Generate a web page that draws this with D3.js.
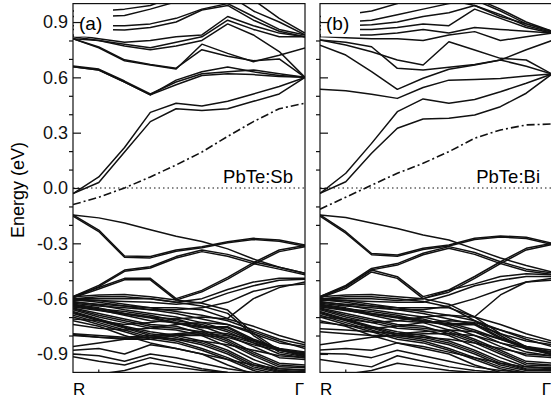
<!DOCTYPE html>
<html>
<head>
<meta charset="utf-8">
<script src="https://d3js.org/d3.v7.min.js"></script>
<style>
  body { margin: 0; background: #fff; }
  text { font-family: "Liberation Sans", Arial, sans-serif; }
</style>
</head>
<body>
<svg id="chart" width="551" height="403"></svg>
<script>
// energies in eV at the 10 k-points along R -> Gamma
let yTicks = [-0.9, -0.6, -0.3, 0.0, 0.3, 0.6, 0.9];
let yMinor = [-0.8, -0.7, -0.5, -0.4, -0.2, -0.1, 0.1, 0.2, 0.4, 0.5, 0.7, 0.8];
let kLabels = ["R", "\u0393"];

// panel (a) PbTe:Sb
let impA = [-0.09, -0.05, 0.0, 0.06, 0.125, 0.195, 0.28, 0.36, 0.43, 0.46];
let condA = [
  [-0.03, 0.03, 0.195, 0.36, 0.43, 0.42, 0.43, 0.47, 0.51, 0.6],
  [-0.03, 0.06, 0.22, 0.41, 0.46, 0.445, 0.47, 0.51, 0.55, 0.6],
  [0.657, 0.64, 0.575, 0.505, 0.585, 0.63, 0.656, 0.63, 0.61, 0.6],
  [0.657, 0.64, 0.575, 0.505, 0.56, 0.61, 0.62, 0.615, 0.605, 0.6],
  [0.662, 0.645, 0.58, 0.51, 0.575, 0.62, 0.63, 0.64, 0.62, 0.6],
  [0.81, 0.76, 0.69, 0.667, 0.645, 0.78, 0.73, 0.685, 0.72, 0.76],
  [0.81, 0.765, 0.695, 0.67, 0.65, 0.75, 0.715, 0.69, 0.7, 0.6],
  [0.81, 0.8, 0.77, 0.75, 0.77, 0.8, 0.89, 0.83, 0.74, 0.6],
  [0.82, 0.8, 0.78, 0.76, 0.79, 0.82, 0.91, 0.86, 0.82, 0.82],
  [0.83, 0.81, 0.79, 0.8, 0.82, 0.83, 0.93, 0.88, 0.84, 0.82],
  [0.86, 0.86, 0.857, 0.87, 0.9, 0.965, 0.99, 0.91, 0.85, 0.82],
  [0.88, 0.88, 0.88, 0.89, 0.92, 0.97, 1.0, 0.93, 0.86, 0.83],
  [0.93, 0.93, 0.935, 0.97, 1.01, 1.05, 1.08, 1.02, 0.92, 0.84],
  [0.96, 0.96, 0.97, 0.99, 1.04, 1.08, 1.05, 0.96, 0.9, 0.83]
];
let valA = [
  [-0.146, -0.162, -0.19, -0.226, -0.262, -0.29, -0.33, -0.385, -0.43, -0.463],
  [-0.146, -0.228, -0.369, -0.372, -0.336, -0.318, -0.291, -0.273, -0.282, -0.309],
  [-0.152, -0.236, -0.376, -0.379, -0.343, -0.324, -0.297, -0.279, -0.289, -0.316],
  [-0.589, -0.528, -0.445, -0.427, -0.372, -0.336, -0.36, -0.4, -0.43, -0.463],
  [-0.595, -0.535, -0.452, -0.434, -0.38, -0.345, -0.37, -0.41, -0.44, -0.47],
  [-0.589, -0.54, -0.49, -0.49, -0.6, -0.555, -0.485, -0.405, -0.336, -0.312],
  [-0.595, -0.548, -0.498, -0.498, -0.608, -0.563, -0.494, -0.414, -0.345, -0.318],
  [-0.6, -0.6, -0.6, -0.6, -0.62, -0.6, -0.55, -0.51, -0.49, -0.49],
  [-0.61, -0.61, -0.615, -0.62, -0.63, -0.62, -0.57, -0.53, -0.5, -0.495],
  [-0.62, -0.63, -0.64, -0.65, -0.65, -0.66, -0.707, -0.6, -0.54, -0.51],
  [-0.625, -0.64, -0.65, -0.66, -0.66, -0.65, -0.62, -0.56, -0.53, -0.52],
  [-0.59, -0.58, -0.578, -0.59, -0.607, -0.625, -0.662, -0.788, -0.88, -0.906],
  [-0.6, -0.59, -0.59, -0.6, -0.62, -0.64, -0.68, -0.8, -0.89, -0.915],
  [-0.64, -0.66, -0.68, -0.7, -0.73, -0.752, -0.752, -0.82, -0.87, -0.91],
  [-0.645, -0.665, -0.685, -0.705, -0.735, -0.758, -0.758, -0.826, -0.876, -0.915],
  [-0.605, -0.62, -0.64, -0.66, -0.68, -0.71, -0.74, -0.79, -0.84, -0.86],
  [-0.6, -0.61, -0.63, -0.65, -0.67, -0.69, -0.72, -0.77, -0.82, -0.85],
  [-0.615, -0.635, -0.66, -0.68, -0.7, -0.73, -0.77, -0.83, -0.88, -0.9],
  [-0.63, -0.65, -0.68, -0.7, -0.71, -0.75, -0.8, -0.86, -0.92, -0.93],
  [-0.635, -0.655, -0.67, -0.69, -0.72, -0.74, -0.78, -0.84, -0.9, -0.92],
  [-0.64, -0.66, -0.69, -0.72, -0.73, -0.77, -0.82, -0.89, -0.95, -0.96],
  [-0.65, -0.68, -0.71, -0.74, -0.75, -0.79, -0.84, -0.91, -0.97, -0.975],
  [-0.655, -0.69, -0.72, -0.75, -0.76, -0.78, -0.83, -0.9, -0.96, -0.97],
  [-0.66, -0.7, -0.73, -0.76, -0.77, -0.8, -0.86, -0.93, -0.98, -0.985],
  [-0.67, -0.71, -0.75, -0.78, -0.8, -0.83, -0.88, -0.95, -0.99, -0.995],
  [-0.675, -0.715, -0.755, -0.79, -0.81, -0.84, -0.89, -0.96, -0.995, -1.0],
  [-0.68, -0.72, -0.76, -0.8, -0.82, -0.85, -0.9, -0.97, -1.0, -1.0],
  [-0.69, -0.73, -0.77, -0.81, -0.83, -0.87, -0.92, -0.98, -1.01, -1.01],
  [-0.7, -0.74, -0.78, -0.82, -0.84, -0.88, -0.93, -0.99, -1.02, -1.02],
  [-0.72, -0.75, -0.8, -0.84, -0.87, -0.9, -0.96, -1.01, -1.03, -1.03],
  [-0.71, -0.72, -0.74, -0.73, -0.71, -0.7, -0.71, -0.75, -0.8, -0.84],
  [-0.74, -0.76, -0.77, -0.76, -0.74, -0.73, -0.74, -0.78, -0.83, -0.87],
  [-0.79, -0.8, -0.81, -0.8, -0.79, -0.78, -0.79, -0.83, -0.87, -0.89],
  [-0.795, -0.81, -0.815, -0.81, -0.795, -0.79, -0.8, -0.84, -0.875, -0.895],
  [-0.8, -0.81, -0.82, -0.82, -0.8, -0.8, -0.81, -0.85, -0.88, -0.9],
  [-0.86, -0.84, -0.82, -0.81, -0.82, -0.83, -0.85, -0.88, -0.91, -0.92],
  [-0.88, -0.87, -0.9, -0.85, -0.87, -0.9, -0.93, -0.96, -0.98, -0.99],
  [-0.9, -0.91, -0.94, -0.9, -0.92, -0.95, -0.98, -1.0, -1.01, -1.01],
  [-0.915, -0.94, -0.96, -0.92, -0.95, -0.98, -1.0, -1.01, -1.02, -1.02],
  [-1.03, -1.01, -0.99, -0.95, -0.97, -0.99, -1.0, -1.005, -1.01, -1.01]
];

// panel (b) PbTe:Bi
let impB = [-0.115, -0.05, 0.015, 0.08, 0.134, 0.197, 0.27, 0.315, 0.342, 0.347];
let condB = [
  [-0.029, 0.034, 0.188, 0.324, 0.374, 0.378, 0.396, 0.441, 0.514, 0.618],
  [-0.029, 0.08, 0.242, 0.414, 0.483, 0.459, 0.48, 0.522, 0.568, 0.618],
  [0.535, 0.528, 0.509, 0.486, 0.545, 0.585, 0.589, 0.594, 0.607, 0.618],
  [0.775, 0.721, 0.631, 0.535, 0.595, 0.644, 0.667, 0.694, 0.66, 0.618],
  [0.803, 0.775, 0.739, 0.694, 0.667, 0.793, 0.748, 0.703, 0.694, 0.618],
  [0.803, 0.79, 0.766, 0.649, 0.64, 0.655, 0.67, 0.694, 0.75, 0.8],
  [0.821, 0.815, 0.81, 0.81, 0.8, 0.83, 0.848, 0.8, 0.82, 0.84],
  [0.83, 0.83, 0.83, 0.84, 0.86, 0.84, 0.87, 0.86, 0.85, 0.84],
  [0.86, 0.86, 0.86, 0.87, 0.89, 0.88, 0.97, 0.92, 0.87, 0.84],
  [0.88, 0.88, 0.885, 0.9, 0.93, 0.95, 0.99, 0.94, 0.88, 0.845],
  [0.9, 0.9, 0.91, 0.94, 0.97, 1.0, 1.02, 0.96, 0.89, 0.85],
  [0.93, 0.94, 0.96, 1.0, 1.04, 1.05, 1.03, 0.97, 0.9, 0.85],
  [1.1, 1.1, 1.1, 1.08, 1.05, 1.02, 0.99, 0.93, 0.89, 0.85]
];
let valB = [
  [-0.146, -0.16, -0.19, -0.22, -0.255, -0.282, -0.33, -0.38, -0.42, -0.455],
  [-0.146, -0.237, -0.355, -0.363, -0.327, -0.309, -0.273, -0.26, -0.267, -0.3],
  [-0.152, -0.245, -0.362, -0.37, -0.334, -0.315, -0.279, -0.266, -0.274, -0.306],
  [-0.589, -0.528, -0.436, -0.41, -0.354, -0.318, -0.35, -0.4, -0.44, -0.46],
  [-0.595, -0.535, -0.444, -0.418, -0.362, -0.327, -0.36, -0.41, -0.45, -0.468],
  [-0.589, -0.535, -0.445, -0.481, -0.589, -0.553, -0.48, -0.4, -0.327, -0.3],
  [-0.595, -0.545, -0.455, -0.49, -0.6, -0.565, -0.49, -0.41, -0.336, -0.306],
  [-0.6, -0.6, -0.6, -0.61, -0.6, -0.555, -0.52, -0.48, -0.465, -0.47],
  [-0.61, -0.61, -0.615, -0.62, -0.62, -0.58, -0.53, -0.5, -0.48, -0.48],
  [-0.62, -0.63, -0.64, -0.65, -0.65, -0.65, -0.698, -0.58, -0.51, -0.49],
  [-0.625, -0.64, -0.65, -0.66, -0.66, -0.64, -0.6, -0.55, -0.51, -0.5],
  [-0.59, -0.58, -0.578, -0.59, -0.6, -0.63, -0.7, -0.79, -0.86, -0.89],
  [-0.6, -0.59, -0.59, -0.6, -0.615, -0.645, -0.72, -0.8, -0.875, -0.9],
  [-0.64, -0.66, -0.68, -0.7, -0.72, -0.735, -0.735, -0.81, -0.86, -0.9],
  [-0.645, -0.665, -0.685, -0.705, -0.725, -0.742, -0.742, -0.816, -0.866, -0.905],
  [-0.605, -0.62, -0.64, -0.66, -0.68, -0.71, -0.74, -0.79, -0.83, -0.85],
  [-0.6, -0.61, -0.63, -0.65, -0.67, -0.69, -0.72, -0.77, -0.81, -0.84],
  [-0.615, -0.635, -0.66, -0.68, -0.7, -0.73, -0.77, -0.82, -0.87, -0.89],
  [-0.63, -0.65, -0.68, -0.7, -0.71, -0.75, -0.8, -0.86, -0.91, -0.92],
  [-0.635, -0.655, -0.67, -0.69, -0.72, -0.74, -0.78, -0.84, -0.89, -0.91],
  [-0.64, -0.66, -0.69, -0.72, -0.73, -0.77, -0.82, -0.88, -0.94, -0.95],
  [-0.65, -0.68, -0.71, -0.74, -0.75, -0.79, -0.84, -0.9, -0.96, -0.965],
  [-0.655, -0.69, -0.72, -0.75, -0.76, -0.78, -0.83, -0.89, -0.95, -0.96],
  [-0.66, -0.7, -0.73, -0.76, -0.77, -0.8, -0.86, -0.92, -0.97, -0.975],
  [-0.67, -0.71, -0.75, -0.78, -0.8, -0.83, -0.88, -0.94, -0.98, -0.985],
  [-0.675, -0.715, -0.755, -0.79, -0.81, -0.84, -0.89, -0.95, -0.985, -0.99],
  [-0.68, -0.72, -0.76, -0.8, -0.82, -0.85, -0.9, -0.96, -0.99, -0.99],
  [-0.69, -0.73, -0.77, -0.81, -0.83, -0.87, -0.92, -0.97, -1.0, -1.0],
  [-0.7, -0.74, -0.78, -0.82, -0.84, -0.88, -0.93, -0.98, -1.01, -1.01],
  [-0.72, -0.75, -0.8, -0.84, -0.87, -0.9, -0.96, -1.0, -1.02, -1.02],
  [-0.7, -0.71, -0.73, -0.72, -0.7, -0.69, -0.7, -0.74, -0.79, -0.83],
  [-0.73, -0.745, -0.76, -0.75, -0.73, -0.72, -0.73, -0.77, -0.82, -0.86],
  [-0.763, -0.77, -0.78, -0.79, -0.78, -0.77, -0.78, -0.82, -0.86, -0.88],
  [-0.78, -0.79, -0.8, -0.8, -0.79, -0.79, -0.8, -0.84, -0.87, -0.89],
  [-0.85, -0.83, -0.81, -0.8, -0.81, -0.82, -0.84, -0.87, -0.9, -0.91],
  [-0.878, -0.87, -0.88, -0.84, -0.86, -0.89, -0.92, -0.95, -0.97, -0.98],
  [-0.897, -0.9, -0.92, -0.88, -0.91, -0.94, -0.97, -0.99, -1.0, -1.0],
  [-0.93, -0.95, -0.97, -0.91, -0.94, -0.97, -0.99, -1.0, -1.01, -1.01],
  [-1.03, -1.01, -0.99, -0.95, -0.97, -0.99, -1.0, -1.005, -1.01, -1.01]
];

let svg = d3.select("#chart");

function drawPanel(id, left, right, label, name, cond, val, imp, showLabels) {
  let x = d3.scaleLinear().domain([0, 9]).range([left, right]);
  let y = d3.scaleLinear().domain([-1, 1]).range([372.4, 3.6]);

  svg.append("clipPath").attr("id", "clip-" + id)
    .append("rect")
    .attr("x", left).attr("y", y(1))
    .attr("width", right - left).attr("height", y(-1) - y(1));

  let g = svg.append("g").attr("clip-path", "url(#clip-" + id + ")");
  let line = d3.line().x((d, i) => x(i)).y(d => y(d));

  // bands
  g.selectAll(".band").data(cond.concat(val)).join("path")
    .attr("class", "band")
    .attr("d", line)
    .attr("fill", "none")
    .attr("stroke", "#111")
    .attr("stroke-width", 1.5)
    .attr("stroke-linejoin", "round");

  // Fermi level
  g.append("line")
    .attr("x1", x(0)).attr("x2", x(9))
    .attr("y1", y(0)).attr("y2", y(0))
    .attr("stroke", "#111")
    .attr("stroke-width", 1)
    .attr("stroke-dasharray", "1.5,3");

  // impurity band (dash-dot)
  g.append("path")
    .attr("d", line(imp))
    .attr("fill", "none")
    .attr("stroke", "#111")
    .attr("stroke-width", 1.6)
    .attr("stroke-dasharray", "8,3,2,3");

  // panel label with white box
  svg.append("rect")
    .attr("x", left + 1).attr("y", y(1) + 1)
    .attr("width", 39).attr("height", 32)
    .attr("fill", "#fff");
  svg.append("text")
    .attr("x", left + 6).attr("y", 30)
    .attr("font-size", 19)
    .text(label);

  svg.append("text")
    .attr("x", right - 12).attr("y", 183)
    .attr("text-anchor", "end")
    .attr("font-size", 18.5)
    .text(name);

  // frame
  svg.append("rect")
    .attr("x", left).attr("y", y(1))
    .attr("width", right - left).attr("height", y(-1) - y(1))
    .attr("fill", "none")
    .attr("stroke", "#111")
    .attr("stroke-width", 1.2);

  // y axis: major ticks inward, minor ticks outward
  let ax = svg.append("g")
    .attr("transform", "translate(" + left + ",0)")
    .call(d3.axisLeft(y).tickValues(yTicks).tickSize(-8).tickPadding(5)
      .tickFormat(d => showLabels ? d.toFixed(1) : ""));
  ax.select(".domain").remove();
  ax.selectAll("line").attr("stroke", "#111").attr("stroke-width", 1.2);
  ax.selectAll("text")
    .attr("font-size", 18)
    .attr("fill", "#111")
    .attr("font-family", "Liberation Sans, Arial, sans-serif");

  let mx = svg.append("g")
    .attr("transform", "translate(" + left + ",0)")
    .call(d3.axisLeft(y).tickValues(yMinor).tickSize(4).tickFormat(""));
  mx.select(".domain").remove();
  mx.selectAll("line").attr("stroke", "#111").attr("stroke-width", 1.2);

  // small tick on the k axis
  svg.append("line")
    .attr("x1", x(1)).attr("x2", x(1))
    .attr("y1", y(-1)).attr("y2", y(-1) - 3)
    .attr("stroke", "#111").attr("stroke-width", 1.2);

  // k labels
  svg.append("text")
    .attr("x", x(0)).attr("y", 395)
    .attr("font-size", 17)
    .text(kLabels[0]);
  svg.append("text")
    .attr("x", x(9) - 1).attr("y", 395)
    .attr("text-anchor", "end")
    .attr("font-size", 17)
    .attr("font-family", "Liberation Serif, Times New Roman, serif")
    .text(kLabels[1]);
}

drawPanel("a", 73, 305, "(a)", "PbTe:Sb", condA, valA, impA, true);
drawPanel("b", 320, 552, "(b)", "PbTe:Bi", condB, valB, impB, false);

// y axis title
svg.append("text")
  .attr("transform", "translate(24,190) rotate(-90)")
  .attr("text-anchor", "middle")
  .attr("font-size", 18)
  .text("Energy (eV)");
</script>
</body>
</html>
